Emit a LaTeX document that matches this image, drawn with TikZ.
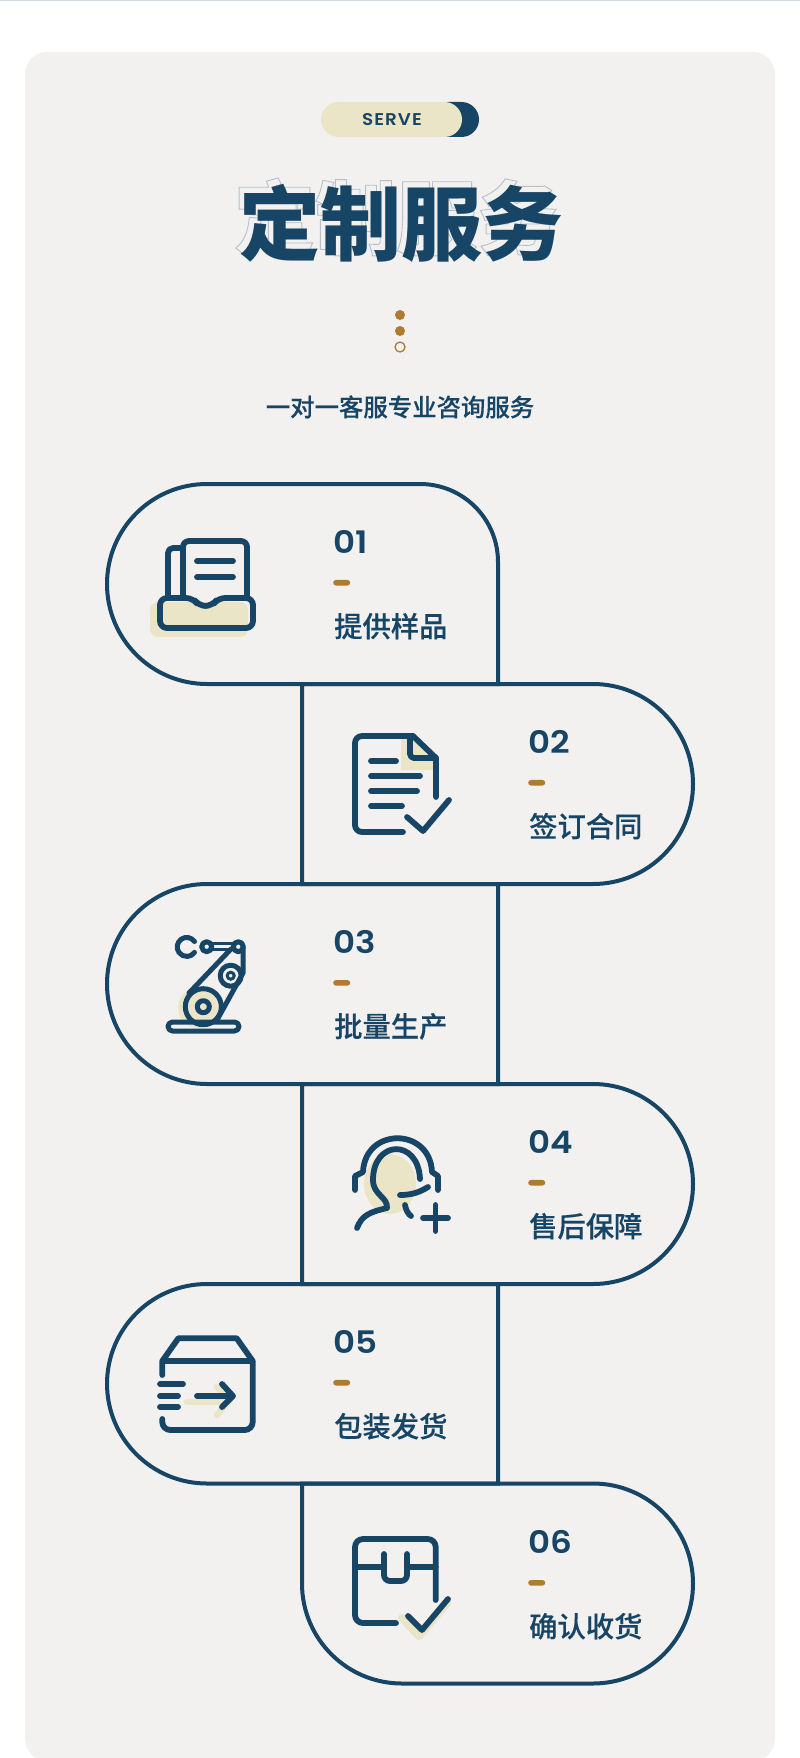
\documentclass[tikz,border=0pt]{standalone}
\usepackage{fontspec}
\setmainfont{Poppins}
\newfontfamily\latinnum{Poppins SemiBold}[FakeStretch=1.1]
\newfontfamily\latinserve{Poppins SemiBold}[FakeStretch=1.08, LetterSpace=6]
\newfontfamily\cjkmed{Noto Sans CJK SC Medium}[FakeBold=0.25]
\newfontfamily\cjkblack{Noto Sans CJK SC Black}
\usetikzlibrary{positioning}
\definecolor{colorAzul}{HTML}{174566}
\definecolor{colorCrema}{HTML}{EBE5C8}
\definecolor{colorFondo}{HTML}{F3F1F0}
\definecolor{colorOcre}{HTML}{B07A30}
\definecolor{colorGhost}{HTML}{B4C0CB}
\begin{document}
\begin{tikzpicture}[x=1pt, y=-1pt,
        node distance=10pt,
        pill/.style={draw=colorAzul, line width=4pt},
        ico/.style={draw=colorAzul, line width=5.8pt, line cap=round, line join=round},
        fino/.style={draw=colorAzul, line width=5pt, line cap=round, line join=round},
        crema/.style={fill=colorCrema, draw=none},
        num/.style={text=colorAzul, font=\fontsize{31}{31}\latinnum, inner sep=0pt, anchor=west},
        raya/.style={fill=colorOcre, rounded corners=2.8pt, minimum width=17pt, minimum height=5.6pt, inner sep=0pt},
        lab/.style={text=colorAzul, font=\fontsize{28.3}{28.3}\cjkmed, inner sep=0pt, anchor=west},
        dot/.style={circle, fill=colorOcre, minimum size=10pt, inner sep=0pt}
    ]
    \useasboundingbox (0,0) rectangle (800,1758);
    \fill[white] (0,0) rectangle (800,1758);
    \fill[colorGhost!60] (0,0) rectangle (800,1.2);
    \fill[colorFondo] (25,1738) -- (25,74) arc[start angle=180, end angle=90, radius=22pt] -- (753,52) arc[start angle=90, end angle=0, radius=22pt] -- (775,1738) arc[start angle=0, end angle=-90, radius=25pt] -- (50,1763) arc[start angle=-90, end angle=-180, radius=25pt] -- cycle;

    \fill[colorAzul, rounded corners=17.5pt] (430,102) rectangle (479,137);
    \node[fill=colorCrema, rounded corners=17.5pt, minimum width=141pt, minimum height=35pt, inner sep=0pt] (pastilla) at (391.5,119.5) {};
    \node[text=colorAzul, font=\fontsize{17}{17}\latinserve, inner sep=0pt] (serve) at (392,119.5) {SERVE};

    \node[text=colorGhost, font=\fontsize{81}{81}\cjkblack, inner sep=0pt] (tituloGhost) at (396,217) {\special{pdf:code 1 Tr 0.9 w}定制服务\special{pdf:code 0 Tr}};
    \node[text=colorAzul, font=\fontsize{81}{81}\cjkblack, inner sep=0pt] (titulo) at (401,223) {定制服务};

    \node[dot] (d1) at (400,315) {};
    \node[dot] (d2) at (400,331) {};
    \node[dot, fill=none, draw=colorOcre, line width=1.3pt, minimum size=10pt] (d3) at (400,347) {};
    \node[text=colorAzul, font=\fontsize{24.4}{24.4}\cjkmed, inner sep=0pt] (sub) at (400,407) {一对一客服专业咨询服务};

    \draw[pill] (498,684) [rounded corners=100pt] -- (107,684) -- (107,484) [rounded corners=78pt] -- (498,484) [sharp corners] -- cycle;
    \draw[pill] (302,684) [rounded corners=100pt] -- (693,684) -- (693,884) [sharp corners] -- (302,884) -- cycle;
    \draw[pill] (498,884) [rounded corners=100pt] -- (107,884) -- (107,1084) [sharp corners] -- (498,1084) -- cycle;
    \draw[pill] (302,1084) [rounded corners=100pt] -- (693,1084) -- (693,1284) [sharp corners] -- (302,1284) -- cycle;
    \draw[pill] (498,1284) [rounded corners=100pt] -- (107,1284) -- (107,1483.5) [sharp corners] -- (498,1483.5) -- cycle;
    \draw[pill] (302,1483.5) [rounded corners=100pt] -- (693,1483.5) -- (693,1683.5) -- (302,1683.5) [sharp corners] -- cycle;

    \node[num] (n1) at (333,542) {01};
    \node[raya, below=26pt of n1.south west, anchor=north west] (r1) {};
    \node[lab, below=27pt of r1.south west, anchor=north west, xshift=1pt] (l1) {提供样品};
    \node[num] (n2) at (528,742) {02};
    \node[raya, below=26pt of n2.south west, anchor=north west] (r2) {};
    \node[lab, below=27pt of r2.south west, anchor=north west, xshift=1pt] (l2) {签订合同};
    \node[num] (n3) at (333,942) {03};
    \node[raya, below=26pt of n3.south west, anchor=north west] (r3) {};
    \node[lab, below=27pt of r3.south west, anchor=north west, xshift=1pt] (l3) {批量生产};
    \node[num] (n4) at (528,1142) {04};
    \node[raya, below=26pt of n4.south west, anchor=north west] (r4) {};
    \node[lab, below=27pt of r4.south west, anchor=north west, xshift=1pt] (l4) {售后保障};
    \node[num] (n5) at (333,1342) {05};
    \node[raya, below=26pt of n5.south west, anchor=north west] (r5) {};
    \node[lab, below=27pt of r5.south west, anchor=north west, xshift=1pt] (l5) {包装发货};
    \node[num] (n6) at (528,1542) {06};
    \node[raya, below=26pt of n6.south west, anchor=north west] (r6) {};
    \node[lab, below=27pt of r6.south west, anchor=north west, xshift=1pt] (l6) {确认收货};

    \fill[crema, rounded corners=8pt] (150,602) rectangle (248,637);
    \draw[ico, rounded corners=5pt] (168,596) -- (168,548) -- (183,548);
    \draw[ico, rounded corners=6pt] (183,597) -- (183,541) -- (247,541) -- (247,597);
    \draw[ico] (197,561) -- (233,561);
    \draw[ico] (197,577) -- (233,577);
    \draw[ico, rounded corners=7pt] (193,598) -- (160,598) -- (160,628) -- (253,628) -- (253,598) -- (218,598) -- (212,606) -- (199,606) -- cycle;

    \fill[crema] (401,738) -- (413,738) -- (433,758) -- (433,770) -- (401,770) -- cycle;
    \draw[ico, rounded corners=7pt] (403,832) -- (355,832) -- (355,736) -- (413,736);
    \draw[ico] (413,736) -- (436,758) -- (436,797);
    \draw[ico, rounded corners=4pt] (410,738) -- (410,758) -- (436,758);
    \draw[ico] (371,761) -- (396,761);
    \draw[ico] (371,776) -- (420,776);
    \draw[ico] (371,791) -- (417,791);
    \draw[ico] (371,806) -- (402,806);
    \draw[ico] (407,817) -- (423,831) -- (449,800);

    \fill[crema] (198,1008) circle[radius=20pt];
    \draw[fino, rounded corners=4.5pt] (168,1022) rectangle (239,1031);
    \draw[fino] (203.3,1006.7) circle[radius=18pt];
    \draw[fino] (203.3,1006.7) circle[radius=6pt];
    \draw[fino] (230.7,975.7) circle[radius=10.5pt];
    \draw[draw=colorAzul, line width=3pt] (230.7,975.7) circle[radius=3.5pt];
    \draw[fino] (189,993) -- (231,949);
    \draw[fino] (243,947) -- (243,973) -- (217,1020);
    \draw[fino] (238.3,946.7) circle[radius=5pt];
    \draw[fino] (206.7,946.7) circle[radius=5pt];
    \draw[draw=colorAzul, line width=3pt] (212,943.5) -- (233,943.5);
    \draw[draw=colorAzul, line width=3pt] (212,949.5) -- (233,949.5);
    \draw[fino] (194.5,941.5) arc[start angle=35, end angle=325, radius=9.5pt];

    \fill[crema] (390,1184) ellipse[x radius=26pt, y radius=30pt];
    \draw[ico] (355,1190) -- (355,1176) -- (363,1172) .. controls (365,1127) and (430,1127) .. (432,1172) -- (438,1176) -- (438,1190);
    \draw[ico] (420,1179) .. controls (418,1138) and (373,1140) .. (373,1180) .. controls (373,1195) and (388,1197) .. (387,1208) .. controls (370,1212) and (362,1215) .. (357,1228);
    \draw[ico] (400,1195) .. controls (412,1195) and (420,1192) .. (428,1187);
    \draw[ico] (405,1205) .. controls (406,1210) and (408,1214) .. (411,1216);
    \draw[ico] (423,1218) -- (448,1218);
    \draw[ico] (435.5,1205) -- (435.5,1231);

    \draw[draw=colorCrema, line width=6.5pt, line cap=round, line join=round] (187,1402) -- (227,1402);
    \draw[draw=colorCrema, line width=6.5pt, line cap=round, line join=round] (217,1387) -- (230,1400) -- (217,1415);
    \draw[ico] (162.3,1375) -- (162.3,1361) -- (178.3,1338.3) -- (236.7,1338.3) -- (252.7,1361) -- (162.3,1361);
    \draw[ico, rounded corners=8pt] (252.7,1361) -- (252.7,1430) -- (162.3,1430) -- (162.3,1419);
    \draw[ico] (160,1384) -- (183,1384);
    \draw[ico] (160,1396) -- (178,1396);
    \draw[ico] (160,1407) -- (178,1407);
    \draw[ico] (197,1396) -- (232,1396);
    \draw[ico] (222,1384) -- (233,1396) -- (222,1407);

    \draw[draw=colorCrema, line width=8pt, line cap=round, line join=round] (402,1618) -- (419,1636) -- (447,1603);
    \draw[ico, rounded corners=8pt] (396,1623) -- (355,1623) -- (355,1539) -- (435.7,1539) -- (435.7,1600);
    \draw[ico] (355,1567) -- (383,1567);
    \draw[ico] (408,1567) -- (435.7,1567);
    \draw[ico, rounded corners=6pt] (384,1554) -- (384,1581) -- (407,1581) -- (407,1554);
    \draw[ico] (408,1616) -- (422,1630) -- (448,1599);
\end{tikzpicture}
\end{document}
